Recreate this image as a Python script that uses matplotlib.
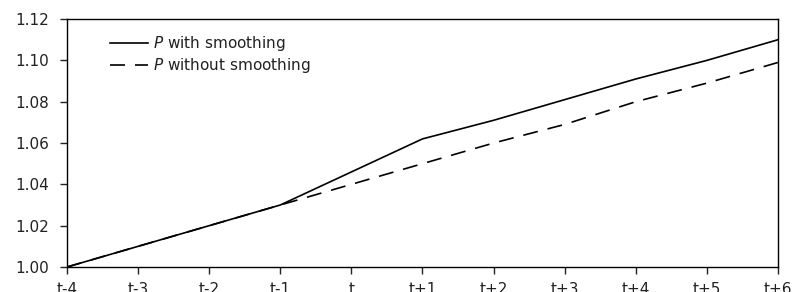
import matplotlib
matplotlib.use('Agg')
import matplotlib.pyplot as plt

plt.rcParams['font.family'] = ['DejaVu Sans']
plt.rcParams['mathtext.fontset'] = 'dejavusans'

# data
periods = ['t-4', 't-3', 't-2', 't-1', 't', 't+1', 't+2', 't+3', 't+4', 't+5', 't+6']
p_smooth = [1.000, 1.010, 1.020, 1.030, 1.046, 1.062, 1.071, 1.081, 1.091, 1.100, 1.110]
p_nosmooth = [1.000, 1.010, 1.020, 1.030, 1.040, 1.050, 1.060, 1.069, 1.080, 1.089, 1.099]
yticks = [1.00, 1.02, 1.04, 1.06, 1.08, 1.10, 1.12]

fig = plt.figure(figsize=(7.97, 2.92), dpi=100)
ax = fig.add_axes([0.084, 0.0856, 0.892, 0.849])

x = range(len(periods))
ax.plot(x, p_smooth, color='black', lw=1.2, label='$P$ with smoothing')
ax.plot(x, p_nosmooth, color='black', lw=1.2, dashes=(9, 6),
        label='$P$ without smoothing')

ax.set_xlim(0, len(periods) - 1)
ax.set_ylim(1.00, 1.12)
ax.set_xticks(list(x))
ax.set_xticklabels(periods)
ax.set_yticks(yticks)
ax.set_yticklabels(['%.2f' % v for v in yticks])

ax.tick_params(axis='both', direction='out', length=5, width=1,
               labelsize=11, colors='#222222')
ax.tick_params(axis='y', pad=8)
ax.tick_params(axis='x', pad=6)
for s in ax.spines.values():
    s.set_linewidth(1)

leg = ax.legend(loc='upper left', frameon=False, fontsize=11,
                handlelength=2.5, handletextpad=0.35, labelspacing=0.2,
                bbox_to_anchor=(0.041, 0.995))
for t in leg.get_texts():
    t.set_color('#222222')

fig.savefig('out.png', dpi=100)
